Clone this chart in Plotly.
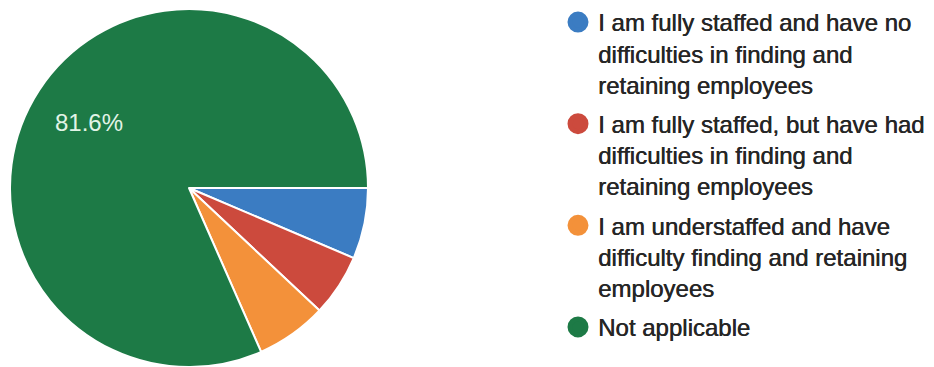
import math
import plotly.graph_objects as go

# Survey responses (share of respondents, %)
labels = [
    "I am fully staffed and have no<br>difficulties in finding and<br>retaining employees",
    "I am fully staffed, but have had<br>difficulties in finding and<br>retaining employees",
    "I am understaffed and have<br>difficulty finding and retaining<br>employees",
    "Not applicable",
]
shares = [6.4, 5.6, 6.4, 81.6]
colors = ["#3b7cc2", "#cc4a3d", "#f3913a", "#1d7a46"]

W, H = 934, 367
pie_dom_x = [0, 378 / W]
pie_dom_y = [0, 358 / H]

fig = go.Figure()

fig.add_trace(go.Pie(
    labels=labels,
    values=shares,
    sort=False,
    direction="clockwise",
    rotation=90,
    marker=dict(colors=colors, line=dict(color="white", width=2)),
    textinfo="none",
    domain=dict(x=pie_dom_x, y=pie_dom_y),
    showlegend=False,
    hoverinfo="label+percent",
))

# percentage label for the largest slice, placed along its mid-angle
total = sum(shares)
big = shares.index(max(shares))
start_frac = sum(shares[:big]) / total
mid_frac = start_frac + shares[big] / total / 2
theta = -2 * math.pi * mid_frac            # clockwise from 3 o'clock
cx_px = (pie_dom_x[0] + pie_dom_x[1]) / 2 * W
cy_px = (pie_dom_y[0] + pie_dom_y[1]) / 2 * H
r_px = min((pie_dom_x[1] - pie_dom_x[0]) * W, (pie_dom_y[1] - pie_dom_y[0]) * H) / 2
lab_r = 0.67 * r_px
fig.add_annotation(
    x=(cx_px + lab_r * math.cos(theta)) / W,
    y=(cy_px + lab_r * math.sin(theta)) / H,
    xref="paper", yref="paper",
    xanchor="center", yanchor="middle",
    text=f"{shares[big]:.1f}%",
    showarrow=False,
    font=dict(family="Liberation Sans, Arial, sans-serif", size=24, color="#e2f4e7"),
)

# legend entries with round swatches, one group each so the group gap separates them
for i, (lab, col) in enumerate(zip(labels, colors)):
    fig.add_trace(go.Scatter(
        x=[None], y=[None], mode="markers", name=lab,
        legendgroup=f"g{i}",
        marker=dict(symbol="circle", size=16, color=col, line=dict(color=col, width=5)),
        hoverinfo="skip",
    ))

fig.update_layout(
    width=W,
    height=H,
    margin=dict(l=0, r=0, t=0, b=0),
    paper_bgcolor="white",
    plot_bgcolor="white",
    xaxis=dict(visible=False),
    yaxis=dict(visible=False),
    legend=dict(
        x=558 / W, y=1.0, xanchor="left", yanchor="top",
        bgcolor="rgba(0,0,0,0)",
        font=dict(family="Liberation Sans, Arial, sans-serif", size=24, color="#262626",
                  shadow="0.5px 0 0 #262626"),
        itemsizing="trace",
        traceorder="grouped",
        valign="top",
        tracegroupgap=5,
        maxheight=1,
    ),
)

fig.write_html("out.html")
